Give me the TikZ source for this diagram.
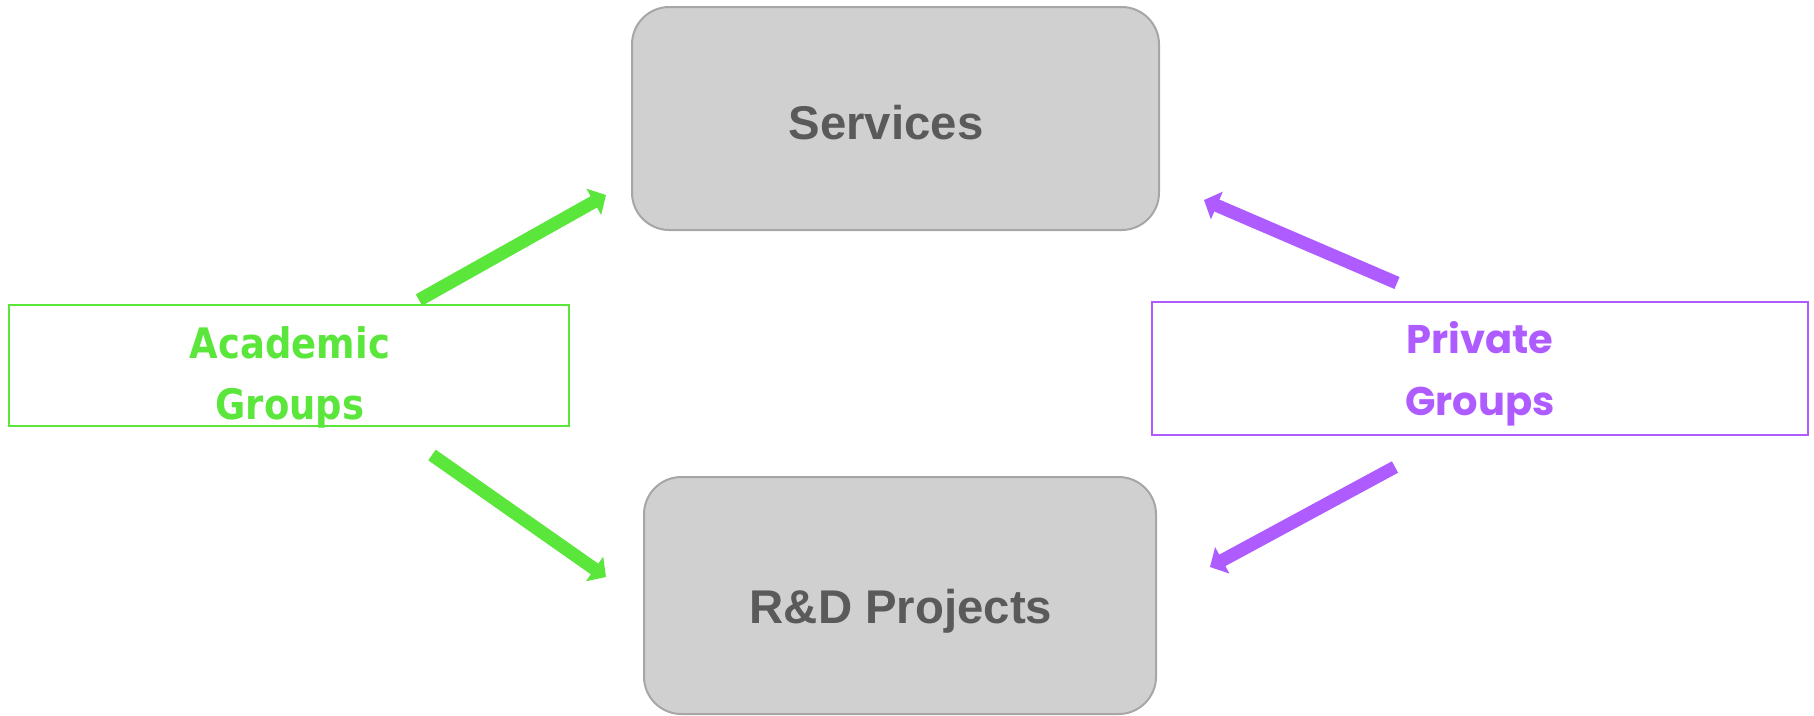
\documentclass[tikz,border=0pt]{standalone}
\usepackage{fontspec}
\setmainfont{Liberation Sans}
\newfontfamily\acadfont[FakeStretch=0.88]{DejaVu Sans}
\newfontfamily\privfont{Poppins}
\usetikzlibrary{arrows.meta}
\definecolor{boxfill}{HTML}{D0D0D0}
\definecolor{boxline}{HTML}{A6A6A6}
\definecolor{txtgray}{HTML}{5A5A5A}
\definecolor{acadgreen}{HTML}{5BE63B}
\definecolor{privpurple}{HTML}{AE5CFF}
\begin{document}
\begin{tikzpicture}[x=0.75pt,y=-0.75pt,
  graybox/.style={draw=boxline, fill=boxfill, line width=1.5pt, rounded corners=28pt, inner sep=0pt},
  acadbox/.style={draw=acadgreen, line width=1.5pt, inner sep=0pt},
  privbox/.style={draw=privpurple, line width=1.5pt, inner sep=0pt},
  graytext/.style={text=txtgray, font=\bfseries\fontsize{35.5}{40}\selectfont, anchor=base, inner sep=0pt},
  acadtext/.style={text=acadgreen, font=\acadfont\bfseries\fontsize{31.5}{45.75}\selectfont, anchor=base, align=center, inner sep=0pt},
  privtext/.style={text=privpurple, font=\privfont\bfseries\fontsize{30}{46.5}\selectfont, anchor=base, align=center, inner sep=0pt},
  greenarrow/.style={draw=acadgreen, line width=9.75pt, -{Triangle[length=10.5pt,width=22pt]}},
  purplearrow/.style={draw=privpurple, line width=9.75pt, -{Triangle[length=10.5pt,width=22pt]}}
]
\useasboundingbox (0,0) rectangle (1814,715);
% boxes
\node[graybox, minimum width=395.25pt, minimum height=167.25pt] (services) at (895.5,118.5) {};
\node[graybox, minimum width=384pt, minimum height=177.75pt] (rnd) at (900,595.5) {};
\node[acadbox, minimum width=420pt, minimum height=90.75pt] (academic) at (289,365.5) {};
\node[privbox, minimum width=492pt, minimum height=99.75pt] (private) at (1480,368.5) {};
% texts (base anchor = baseline of the last line)
\node[graytext] (servicesT) at (886,139) {Services};
\node[graytext] (rndT) at (901,623) {R\&D Projects};
\node[acadtext] (academicT) at (290,419) {Academic\\Groups};
\node[privtext] (privateT) at (1480,415) {Private\\Groups};
% arrow ends
\coordinate (g1s) at (419,300);
\coordinate (g1e) at (606,195);
\coordinate (g2s) at (432,455);
\coordinate (g2e) at (606,577);
\coordinate (p1s) at (1397,283);
\coordinate (p1e) at (1204,200);
\coordinate (p2s) at (1395,467);
\coordinate (p2e) at (1210,567);
\draw[greenarrow] (g1s) -- (g1e);
\draw[greenarrow] (g2s) -- (g2e);
\draw[purplearrow] (p1s) -- (p1e);
\draw[purplearrow] (p2s) -- (p2e);
\end{tikzpicture}
\end{document}
